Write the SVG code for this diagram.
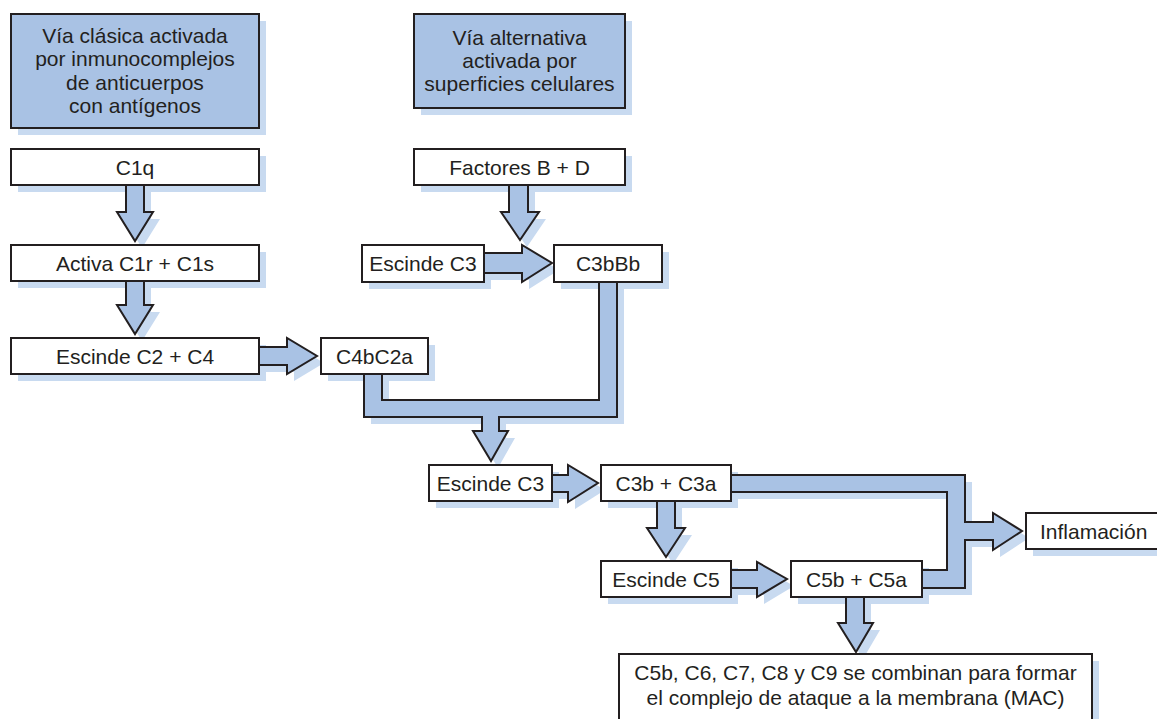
<svg xmlns="http://www.w3.org/2000/svg" xmlns:xlink="http://www.w3.org/1999/xlink" width="1157" height="719" viewBox="0 0 1157 719">
<style>
.shadow{fill:#c8daf0;stroke:none}
.arrow{fill:#a9c2e4;stroke:#231f20;stroke-width:2;stroke-linejoin:miter}
.box{fill:#ffffff;stroke:#231f20;stroke-width:2}
.hdr{fill:#a9c2e4;stroke:#231f20;stroke-width:2}
text{font-family:"Liberation Sans",Arial,sans-serif;font-size:21px;fill:#231f20;text-anchor:middle}
</style>
<defs>
<polygon id="a1" points="126,185 144,185 144,212 153,212 135,241 117,212 126,212"/>
<polygon id="a2" points="126,281 144,281 144,305 153,305 135,334 117,305 126,305"/>
<polygon id="a3" points="259,347 287,347 287,338 317,356 287,374 287,365 259,365"/>
<polygon id="a4" points="509,185 528,185 528,212 539,212 520,240 501,212 509,212"/>
<polygon id="a5" points="484,253 522,253 522,245 552,263 522,282 522,273 484,273"/>
<polygon id="a6" points="364,374 364,417 482,417 482,431 473,431 491,461 508,431 499,431 499,417 617,417 617,282 599,282 599,400 382,400 382,374"/>
<polygon id="a7" points="552,475 568,475 568,465 598,483 568,502 568,492 552,492"/>
<polygon id="a8" points="657,501 675,501 675,528 685,528 666,557 647,528 657,528"/>
<polygon id="a9" points="731,570 757,570 757,562 787,579 757,597 757,588 731,588"/>
<polygon id="a10" points="846,597 864,597 864,623 873,623 856,652 838,623 846,623"/>
<polygon id="a11" points="731,475 965,475 965,522 993,522 993,513 1022,531 993,550 993,540 965,540 965,588 922,588 922,570 947,570 947,492 731,492"/>
</defs>
<rect width="1157" height="719" fill="#ffffff"/>
<g id="shadows" transform="translate(7,7)">
<rect class="shadow" x="11" y="14" width="248" height="114"/>
<rect class="shadow" x="414" y="14" width="211" height="94"/>
<rect class="shadow" x="11" y="149" width="248" height="36"/>
<rect class="shadow" x="414" y="149" width="211" height="36"/>
<rect class="shadow" x="11" y="245" width="248" height="36"/>
<rect class="shadow" x="362" y="245" width="122" height="37"/>
<rect class="shadow" x="554" y="245" width="108" height="37"/>
<rect class="shadow" x="11" y="338" width="248" height="36"/>
<rect class="shadow" x="321" y="338" width="107" height="36"/>
<rect class="shadow" x="429" y="465" width="123" height="36"/>
<rect class="shadow" x="601" y="465" width="130" height="36"/>
<rect class="shadow" x="601" y="561" width="130" height="36"/>
<rect class="shadow" x="791" y="561" width="131" height="36"/>
<rect class="shadow" x="1026" y="513" width="150" height="36"/>
<rect class="shadow" x="619" y="654" width="473" height="80"/>
<use href="#a1" class="shadow"/>
<use href="#a2" class="shadow"/>
<use href="#a3" class="shadow"/>
<use href="#a4" class="shadow"/>
<use href="#a5" class="shadow"/>
<use href="#a6" class="shadow"/>
<use href="#a7" class="shadow"/>
<use href="#a8" class="shadow"/>
<use href="#a9" class="shadow"/>
<use href="#a10" class="shadow"/>
<use href="#a11" class="shadow"/>
</g>
<g id="connectors">
<use href="#a1" class="arrow"/>
<use href="#a2" class="arrow"/>
<use href="#a3" class="arrow"/>
<use href="#a4" class="arrow"/>
<use href="#a5" class="arrow"/>
<use href="#a6" class="arrow"/>
<use href="#a7" class="arrow"/>
<use href="#a8" class="arrow"/>
<use href="#a9" class="arrow"/>
<use href="#a10" class="arrow"/>
<use href="#a11" class="arrow"/>
</g>
<g id="via-clasica">
<rect class="hdr" x="11" y="14" width="248" height="114"/>
<text x="135" y="43">Vía clásica activada</text>
<text x="135" y="66">por inmunocomplejos</text>
<text x="135" y="89.5">de anticuerpos</text>
<text x="135" y="113">con antígenos</text>
</g>
<g id="via-alternativa">
<rect class="hdr" x="414" y="14" width="211" height="94"/>
<text x="519.5" y="45">Vía alternativa</text>
<text x="519.5" y="68">activada por</text>
<text x="519.5" y="91">superficies celulares</text>
</g>
<g id="c1q">
<rect class="box" x="11" y="149" width="248" height="36"/>
<text x="135" y="174.5">C1q</text>
</g>
<g id="factores">
<rect class="box" x="414" y="149" width="211" height="36"/>
<text x="519.5" y="174.5">Factores B + D</text>
</g>
<g id="activa">
<rect class="box" x="11" y="245" width="248" height="36"/>
<text x="135" y="270.5">Activa C1r + C1s</text>
</g>
<g id="escinde-c3-alt">
<rect class="box" x="362" y="245" width="122" height="37"/>
<text x="423" y="271">Escinde C3</text>
</g>
<g id="c3bbb">
<rect class="box" x="554" y="245" width="108" height="37"/>
<text x="608" y="271">C3bBb</text>
</g>
<g id="escinde-c2-c4">
<rect class="box" x="11" y="338" width="248" height="36"/>
<text x="135" y="363.5">Escinde C2 + C4</text>
</g>
<g id="c4bc2a">
<rect class="box" x="321" y="338" width="107" height="36"/>
<text x="374.5" y="363.5">C4bC2a</text>
</g>
<g id="escinde-c3">
<rect class="box" x="429" y="465" width="123" height="36"/>
<text x="490.5" y="490.5">Escinde C3</text>
</g>
<g id="c3b-c3a">
<rect class="box" x="601" y="465" width="130" height="36"/>
<text x="666" y="490.5">C3b + C3a</text>
</g>
<g id="escinde-c5">
<rect class="box" x="601" y="561" width="130" height="36"/>
<text x="666" y="586.5">Escinde C5</text>
</g>
<g id="c5b-c5a">
<rect class="box" x="791" y="561" width="131" height="36"/>
<text x="856.5" y="586.5">C5b + C5a</text>
</g>
<g id="inflamacion">
<rect class="box" x="1026" y="513" width="150" height="36"/>
<text x="1040" y="538.5" style="text-anchor:start">Inflamación</text>
</g>
<g id="mac">
<rect class="box" x="619" y="654" width="473" height="80"/>
<text x="855.5" y="680">C5b, C6, C7, C8 y C9 se combinan para formar</text>
<text x="855.5" y="705">el complejo de ataque a la membrana (MAC)</text>
</g>
</svg>
